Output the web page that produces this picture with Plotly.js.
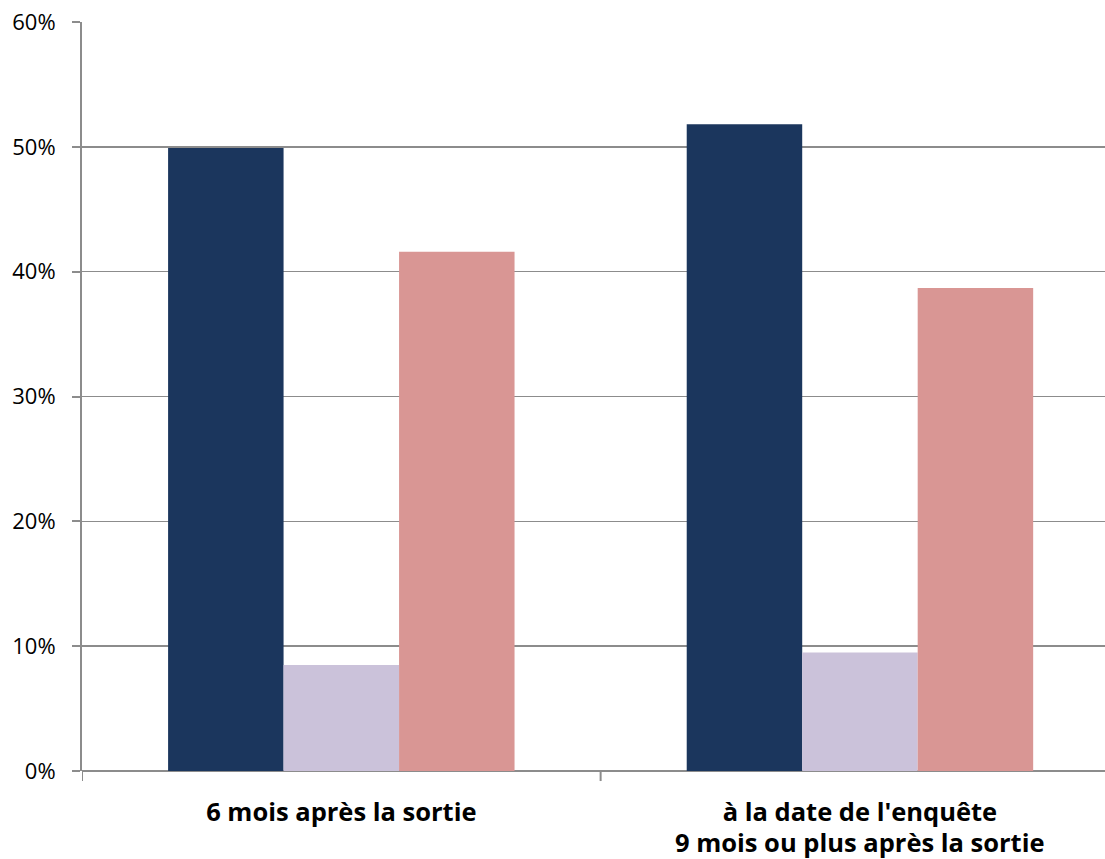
<!DOCTYPE html>
<html>
<head>
<meta charset="utf-8">
<script src="https://cdn.plot.ly/plotly-3.0.1.min.js"></script>
<style>html,body{margin:0;padding:0;background:#fff;}#chart{width:1105px;height:859px;}</style>
</head>
<body>
<div id="chart"></div>
<script>
const categories = ["6 mois après la sortie", "à la date de l'enquête"];
const categorySubtitles = ["", "9 mois ou plus après la sortie"];
const series1 = [0.499, 0.518];
const series2 = [0.085, 0.095];
const series3 = [0.416, 0.387];
const colors = ["#1b365d", "#cbc2da", "#d99694"];
const FONT = "'Open Sans', sans-serif";

const data = [series1, series2, series3].map((vals, i) => ({
  type: "bar",
  x: [0, 1],
  y: vals,
  marker: {color: colors[i]},
  hoverinfo: "none"
}));

const annotations = categorySubtitles.map((t, i) => t ? {
  xref: "x", yref: "paper", x: i, y: 0, yanchor: "top", xanchor: "center",
  yshift: -52, text: t, showarrow: false,
  font: {size: 25.5, family: FONT, weight: "bold", color: "#000"}
} : null).filter(Boolean);

const layout = {
  width: 1105,
  height: 859,
  margin: {l: 82, r: 0, t: 22, b: 88},
  paper_bgcolor: "#fff",
  plot_bgcolor: "#fff",
  showlegend: false,
  barmode: "group",
  bargap: 0.332,
  bargroupgap: 0,
  font: {family: FONT, color: "#000"},
  xaxis: {
    range: [-0.5, 1.4725],
    tickmode: "array",
    tickvals: [0, 1],
    ticktext: categories,
    showgrid: false,
    zeroline: false,
    showline: false,
    ticks: "",
    ticklabelstandoff: 23,
    tickfont: {size: 25.5, family: FONT, weight: "bold", color: "#000"},
    fixedrange: true
  },
  yaxis: {
    range: [0, 0.6],
    dtick: 0.1,
    tick0: 0,
    tickformat: ".0%",
    showgrid: true,
    gridcolor: "#8c8c8c",
    gridwidth: 1.5,
    zeroline: true,
    zerolinecolor: "#8c8c8c",
    zerolinewidth: 2,
    showline: true,
    linecolor: "#8c8c8c",
    linewidth: 2,
    ticks: "outside",
    ticklen: 8,
    tickwidth: 2,
    tickcolor: "#8c8c8c",
    ticklabelstandoff: 12,
    tickfont: {size: 22, family: FONT, color: "#000"},
    fixedrange: true
  },
  annotations: annotations,
  shapes: [0, 1, 2].map(k => ({
    type: "line", xref: "x", yref: "paper",
    x0: k - 0.5, x1: k - 0.5, y0: 0, y1: -0.0134,
    line: {color: "#8c8c8c", width: 2}
  }))
};

Plotly.newPlot("chart", data, layout, {displayModeBar: false, staticPlot: true});
</script>
</body>
</html>
